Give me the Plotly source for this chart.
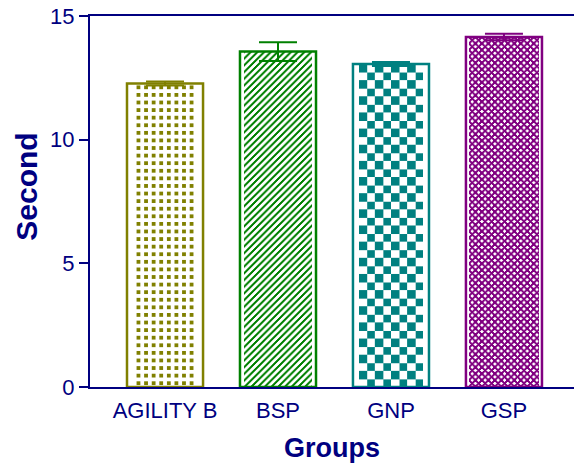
import base64
import plotly.graph_objects as go

groups = ["AGILITY B", "BSP", "GNP", "GSP"]
means = [12.27, 13.56, 13.06, 14.15]
errors = [0.08, 0.38, 0.08, 0.13]
colors = ["#808000", "#008000", "#008080", "#800080"]
y_ticks = [0, 5, 10, 15]

NAVY = "#000080"
FONT = "Liberation Sans, Arial, sans-serif"
BAR_W = 0.673
positions = list(range(len(groups)))


def svg_uri(tile, tw, th, w=80, h=400):
    svg = (f'<svg xmlns="http://www.w3.org/2000/svg" width="{w}" height="{h}" '
           f'viewBox="0 0 {w} {h}" shape-rendering="crispEdges">'
           f'<defs><pattern id="p" x="0" y="0" width="{tw}" height="{th}" '
           f'patternUnits="userSpaceOnUse">{tile}</pattern></defs>'
           f'<rect width="{w}" height="{h}" fill="white"/>'
           f'<rect width="{w}" height="{h}" fill="url(#p)"/></svg>')
    return "data:image/svg+xml;base64," + base64.b64encode(svg.encode()).decode()


def dots_fill(c):
    return svg_uri(f'<rect x="3" y="3" width="4" height="4" fill="{c}"/>', 10, 10)


def hatch_fill(c):
    t = 8
    tile = (f'<path d="M-2,{t + 2} L{t + 2},-2 M-2,2 L2,-2 M{t - 2},{t + 2} L{t + 2},{t - 2}" '
            f'stroke="{c}" stroke-width="1.8" fill="none"/>')
    return svg_uri(tile, t, t)


def checker_fill(c):
    tile = (f'<rect x="0" y="0" width="10" height="10" fill="{c}"/>'
            f'<rect x="10" y="10" width="10" height="10" fill="{c}"/>')
    return svg_uri(tile, 20, 20)


def cross_fill(c):
    t = 7.4
    tile = (f'<path d="M-2,{t + 2} L{t + 2},-2 M-2,-2 L{t + 2},{t + 2} '
            f'M-2,2 L2,-2 M{t - 2},{t + 2} L{t + 2},{t - 2} '
            f'M{t - 2},-2 L{t + 2},2 M-2,{t - 2} L2,{t + 2}" '
            f'stroke="{c}" stroke-width="1.5" fill="none"/>')
    return svg_uri(tile, t, t)


fill_makers = [dots_fill, hatch_fill, checker_fill, cross_fill]

fig = go.Figure()
images = []
for i, g in enumerate(groups):
    images.append(dict(
        source=fill_makers[i](colors[i]), xref="x", yref="y",
        x=positions[i] - BAR_W / 2, y=means[i],
        sizex=BAR_W, sizey=means[i],
        xanchor="left", yanchor="top", sizing="fill", layer="below",
    ))
    fig.add_trace(go.Bar(
        x=[positions[i]], y=[means[i]], width=BAR_W,
        marker=dict(color="rgba(0,0,0,0)", line=dict(color=colors[i], width=2.5)),
        error_y=dict(type="data", array=[errors[i]], color=colors[i],
                     thickness=2, width=19),
        showlegend=False, hoverinfo="skip",
    ))

fig.add_annotation(
    text="<b>Second</b>", textangle=-90, xref="paper", yref="paper",
    x=-0.133, y=0.539, xanchor="center", yanchor="middle", showarrow=False,
    font=dict(size=30, color=NAVY, family=FONT),
)

fig.update_layout(
    width=574, height=469,
    margin=dict(l=90, r=0, t=16, b=82, autoexpand=False),
    paper_bgcolor="white", plot_bgcolor="rgba(0,0,0,0)",
    images=images,
    font=dict(family=FONT, color=NAVY),
    xaxis=dict(
        range=[-0.664, 3.62], tickvals=positions, ticktext=groups,
        showline=True, linecolor=NAVY, linewidth=2, mirror=True,
        ticks="", showgrid=False, zeroline=False, automargin=False,
        ticklabelstandoff=3,
        tickfont=dict(size=22, color=NAVY, family=FONT),
        title=dict(text="<b>Groups</b>", font=dict(size=27, color=NAVY, family=FONT), standoff=16),
    ),
    yaxis=dict(
        range=[0, 15], tickvals=y_ticks,
        showline=True, linecolor=NAVY, linewidth=2,
        ticks="outside", ticklen=9, tickwidth=2, tickcolor=NAVY,
        showgrid=False, zeroline=False, automargin=False,
        tickfont=dict(size=22, color=NAVY, family=FONT),
    ),
)

fig.write_html("out.html", config={"displayModeBar": False},
               post_script="document.body.style.margin='0';")
